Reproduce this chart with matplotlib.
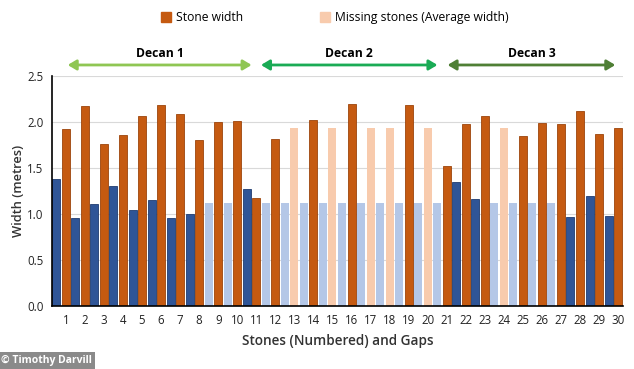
import numpy as np
import matplotlib
matplotlib.use("Agg")
import matplotlib.pyplot as plt
from matplotlib.patches import FancyArrowPatch, Patch
from matplotlib.transforms import blended_transform_factory

plt.rcParams['font.family'] = ['Open Sans', 'DejaVu Sans']

# stone number 1..30
stones = np.arange(1, 31)

# width of each stone (metres); NaN where stone is missing
stone_width = [1.92, 2.17, 1.76, 1.86, 2.07, 2.18, 2.09, 1.80, 2.00, 2.01,
               1.17, 1.82, np.nan, 2.02, np.nan, 2.20, np.nan, np.nan, 2.19, np.nan,
               1.52, 1.98, 2.07, np.nan, 1.85, 1.99, 1.98, 2.12, 1.87, 1.94]
avg_stone = 1.93

# width of the gap before each stone; NaN where it is an estimated (average) gap
gap_width = [1.38, 0.96, 1.11, 1.30, 1.04, 1.15, 0.96, 1.00, np.nan, np.nan,
             1.27, np.nan, np.nan, np.nan, np.nan, np.nan, np.nan, np.nan, np.nan, np.nan,
             np.nan, 1.35, 1.16, np.nan, np.nan, np.nan, np.nan, 0.97, 1.20, 0.98]
avg_gap = 1.12

decans = ["Decan 1", "Decan 2", "Decan 3"]
decan_start = [0.95, 11.1, 20.9]
decan_end = [10.9, 20.66, 30.0]
decan_colors = ["#8fc653", "#1aab55", "#4f7f35"]

orange = "#c55a11"
light_orange = "#f8cbad"
blue = "#2f5597"
light_blue = "#b4c7e7"

stone_width = np.array(stone_width)
gap_width = np.array(gap_width)

fig = plt.figure(figsize=(6.34, 3.69), dpi=100)
ax = fig.add_axes([0.082, 0.171, 0.901, 0.623])

w = 0.42
# gaps
miss_gap = np.isnan(gap_width)
ax.bar(stones[miss_gap] - 0.5, avg_gap, width=w, color=light_blue, zorder=2)
ax.bar(stones[~miss_gap] - 0.5, gap_width[~miss_gap], width=w, color=blue,
       edgecolor="#1f3c70", linewidth=0.6, zorder=2)
# stones
miss = np.isnan(stone_width)
ax.bar(stones[miss], avg_stone, width=w, color=light_orange, zorder=2)
ax.bar(stones[~miss], stone_width[~miss], width=w, color=orange,
       edgecolor="#9c440b", linewidth=0.6, zorder=2)

ax.set_xlim(0.27, 30.27)
ax.set_ylim(0, 2.5)
ax.set_yticks(np.arange(0, 2.51, 0.5))
ax.set_yticklabels([f"{v:.1f}" for v in np.arange(0, 2.51, 0.5)])
ax.set_xticks(stones)
ax.tick_params(axis='both', length=0, labelsize=8.3, colors="#222222", pad=6)
ax.yaxis.grid(True, color="#d9d9d9", linewidth=0.8, zorder=0)
ax.set_axisbelow(True)
for s in ["top", "right"]:
    ax.spines[s].set_visible(False)
ax.spines["left"].set_color("black")
ax.spines["bottom"].set_color("black")
ax.spines["left"].set_linewidth(1.2)
ax.spines["bottom"].set_linewidth(1.2)

ax.set_xlabel("Stones (Numbered) and Gaps", fontsize=9.8, fontweight="semibold",
              color="#333333", labelpad=5)
ax.set_ylabel("Width (metres)", fontsize=9.3, fontweight="semibold",
              color="#333333", labelpad=2)

# decan arrows
trans = blended_transform_factory(ax.transData, ax.transAxes)
for name, x0, x1, c in zip(decans, decan_start, decan_end, decan_colors):
    arr = FancyArrowPatch((x0, 1.048), (x1, 1.048), transform=trans,
                          arrowstyle="<|-|>,head_length=5,head_width=3",
                          color=c, linewidth=2, clip_on=False)
    ax.add_patch(arr)
    ax.text((x0 + x1) / 2, 1.10, name, transform=trans, ha="center", va="center",
            fontsize=8.7, fontweight="bold", color="black")

handles = [Patch(color=orange, label="Stone width"),
           Patch(color=light_orange, label="Missing stones (Average width)")]
fig.legend(handles=handles, loc="center", bbox_to_anchor=(0.528, 0.952), ncol=2,
           frameon=False, fontsize=8.7, handlelength=0.8, handleheight=0.8,
           handletextpad=0.4, columnspacing=6.4)

fig.text(0.002, 0.022, "\u00a9 Timothy Darvill", fontsize=7.5, fontweight="bold",
         color="white", ha="left", va="center",
         bbox=dict(boxstyle="square,pad=0.3", facecolor="#8a8a8a", edgecolor="none"))

fig.savefig("out.png", dpi=100)
